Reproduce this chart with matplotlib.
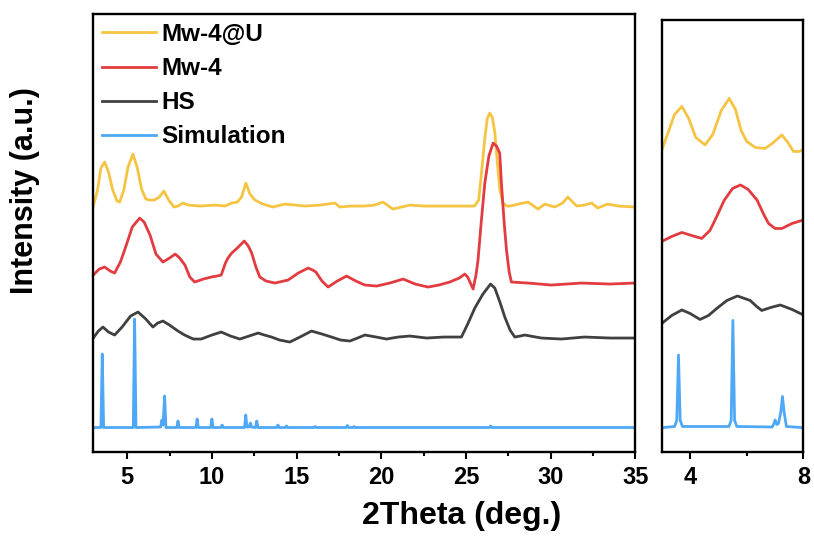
import matplotlib
matplotlib.use("Agg")
import matplotlib.pyplot as plt
from matplotlib.ticker import FixedLocator, NullLocator

plt.rcParams['font.family'] = ['Liberation Sans', 'DejaVu Sans']
plt.rcParams['font.weight'] = 'bold'

# ---------------- data (left panel, 2Theta 3-35) ----------------
labels = ["Mw-4@U", "Mw-4", "HS", "Simulation"]
colors = ["#F6C443", "#E23B40", "#404040", "#4FA8F5"]

mwu_x = [3.0, 3.25, 3.45, 3.67, 3.9, 4.15, 4.4, 4.56, 4.8, 5.05, 5.34, 5.6, 5.85, 6.1,
         6.33, 6.6, 6.9, 7.17, 7.45, 7.76, 8.0, 8.29, 8.6, 9.3, 10.2, 10.77, 11.17,
         11.5, 11.75, 12.01, 12.25, 12.54, 13.0, 13.6, 14.31, 14.9, 15.5, 16.4, 17.26,
         17.55, 18.2, 19.03, 19.6, 20.1, 20.68, 21.7, 22.5, 23.45, 24.5, 25.5, 25.75,
         25.95, 26.1, 26.25, 26.4, 26.55, 26.7, 26.85, 27.0, 27.19, 27.4, 27.6, 28.1,
         28.66, 29.25, 29.65, 30.24, 30.7, 31.01, 31.3, 31.54, 32.0, 32.42, 32.77, 33.36,
         34.0, 34.96]
mwu_y = [246, 262, 284, 290, 280, 262, 251, 250, 262, 285, 298, 284, 263, 253,
         252, 252, 255, 261, 252, 245, 246, 249, 247, 246, 247, 246, 249,
         250, 255, 269, 258, 252, 248, 245, 248, 247, 246, 247, 249,
         245, 246, 246, 247, 250, 243, 247, 246, 246, 246, 246, 252,
         285, 312, 333, 339, 335, 320, 290, 262, 249, 246, 246, 248,
         250, 243, 248, 245, 249, 255, 250, 246, 247, 249, 244, 248,
         246, 245]

mw_x = [3.0, 3.35, 3.67, 4.0, 4.26, 4.6, 4.95, 5.3, 5.74, 6.0, 6.35, 6.7, 7.11, 7.5,
        7.84, 8.1, 8.41, 8.7, 8.98, 9.5, 9.96, 10.3, 10.55, 10.8, 10.95, 11.17, 11.5,
        11.91, 12.15, 12.35, 12.6, 12.83, 13.2, 13.72, 14.5, 15.1, 15.68, 15.95, 16.14,
        16.5, 16.86, 17.4, 17.95, 18.5, 19.03, 19.72, 20.5, 21.29, 22.0, 22.76, 23.4,
        24.04, 24.6, 24.93, 25.1, 25.42, 25.6, 25.71, 25.9, 26.11, 26.35, 26.6, 26.8,
        26.99, 27.09, 27.25, 27.39, 27.55, 27.68, 28.66, 30.04, 31.81, 33.5, 34.96]
mw_y = [177, 183, 185, 181, 179, 190, 207, 225, 234, 230, 217, 198, 190, 194,
        198, 194, 187, 175, 170, 173, 175, 176, 177, 189, 194, 199, 204,
        211, 206, 199, 185, 175, 171, 169, 172, 179, 184, 182, 180,
        171, 165, 171, 176, 171, 167, 166, 169, 173, 168, 165, 167,
        170, 174, 178, 175, 163, 178, 192, 230, 269, 296, 309, 306,
        299, 269, 230, 202, 180, 170, 169, 167, 169, 168, 169]

hs_x = [3.0, 3.3, 3.57, 3.9, 4.26, 4.7, 5.2, 5.64, 6.1, 6.52, 6.8, 7.11, 7.5, 8.0,
        8.39, 8.9, 9.37, 10.0, 10.55, 11.1, 11.65, 12.2, 12.73, 13.1, 13.52, 14.0,
        14.6, 15.2, 15.88, 16.5, 17.06, 17.6, 18.14, 18.6, 19.03, 19.7, 20.31, 21.0,
        21.68, 22.67, 23.7, 24.73, 25.1, 25.52, 26.0, 26.45, 26.7, 27.0, 27.29, 27.6,
        27.88, 28.2, 28.47, 29.45, 30.63, 32.0, 33.5, 34.96]
hs_y = [114, 121, 125, 120, 117, 125, 136, 140, 133, 125, 129, 131, 127, 121,
        117, 113, 113, 117, 120, 116, 113, 116, 119, 117, 115, 112,
        110, 115, 121, 118, 115, 112, 111, 114, 117, 115, 113, 115,
        116, 114, 115, 115, 128, 144, 158, 168, 164, 150, 135, 122,
        115, 116, 117, 114, 113, 115, 114, 114]

sim_x = [3.0, 3.45, 3.53, 3.61, 5.36, 5.44, 5.52, 6.97, 7.05, 7.12, 7.21, 7.29,
         7.93, 8.0, 8.07, 9.06, 9.13, 9.2, 9.93, 10.0, 10.07, 10.53, 10.6, 10.67,
         11.93, 12.0, 12.07, 12.2, 12.27, 12.34, 12.58, 12.65, 12.72, 13.83, 13.9, 13.97,
         14.33, 14.4, 14.47, 16.03, 16.1, 16.17, 17.93, 18.0, 18.07, 18.33, 18.4, 18.47,
         26.38, 26.45, 26.52, 35.0]
sim_y = [24.5, 24.5, 98, 24.5, 24.5, 133, 24.5, 25, 32, 27, 56, 24.5,
         24.5, 31, 24.5, 24.5, 33, 24.5, 24.5, 33, 24.5, 24.5, 27, 24.5,
         24.5, 37, 25, 25, 29, 25, 24.5, 31, 24.5, 24.5, 27, 24.5,
         24.5, 26, 24.5, 24.5, 25.5, 24.5, 24.5, 26.5, 24.5, 24.5, 25.5, 24.5,
         24.5, 26, 24.5, 24.5]

# ---------------- data (right panel, 2Theta 3-8) ----------------
r_mwu_x = [3.0, 3.2, 3.45, 3.71, 3.95, 4.2, 4.53, 4.8, 5.1, 5.38, 5.6, 5.8, 6.0, 6.3,
           6.65, 6.9, 7.24, 7.45, 7.65, 7.85, 8.0]
r_mwu_y = [302.5, 318, 338, 346, 334, 315, 307.5, 318, 342, 354, 343, 322, 311, 305,
           304, 309, 317.5, 310, 301, 301, 303]

r_mw_x = [3.0, 3.35, 3.71, 4.05, 4.41, 4.7, 4.94, 5.2, 5.5, 5.78, 6.05, 6.36, 6.6,
          6.77, 7.0, 7.24, 7.6, 8.0]
r_mw_y = [211, 216, 220, 217, 214, 222, 236, 252, 264, 267.5, 263, 252.5, 238,
          229, 224, 224, 229, 232.5]

r_hs_x = [3.0, 3.35, 3.71, 4.0, 4.35, 4.65, 4.94, 5.3, 5.67, 6.12, 6.35, 6.53, 6.85,
          7.18, 7.6, 8.0]
r_hs_y = [129, 137, 142.5, 139, 133, 137, 144, 152, 156.5, 152, 146, 142, 145,
          147.5, 143, 137.5]

r_sim_x = [3.0, 3.45, 3.53, 3.59, 3.65, 3.73, 5.37, 5.45, 5.51, 5.57, 5.65,
           6.9, 6.96, 7.0, 7.06, 7.12, 7.2, 7.26, 7.32, 7.4, 8.0]
r_sim_y = [24.8, 26, 32, 97.5, 32, 26, 26, 32, 132, 32, 26,
           25.5, 29, 32.5, 28, 29, 40, 56, 40, 26, 24.8]

# ---------------- figure ----------------
fig = plt.figure(figsize=(8.14, 5.36), dpi=100)
axL = fig.add_axes([0.1146, 0.1567, 0.666, 0.817])
axR = fig.add_axes([0.813, 0.1558, 0.174, 0.807])

lw = 2.0
series_left = [(mwu_x, mwu_y), (mw_x, mw_y), (hs_x, hs_y), (sim_x, sim_y)]
series_right = [(r_mwu_x, r_mwu_y), (r_mw_x, r_mw_y), (r_hs_x, r_hs_y), (r_sim_x, r_sim_y)]

for (x, y), c, lab in zip(series_left, colors, labels):
    axL.plot(x, y, color=c, lw=lw, label=lab, solid_joinstyle='round')
for (x, y), c in zip(series_right, colors):
    axR.plot(x, y, color=c, lw=lw, solid_joinstyle='round')

axL.set_xlim(3, 35)
axL.set_ylim(0, 438)
axR.set_xlim(3, 8)
axR.set_ylim(0, 432.5)

axL.xaxis.set_major_locator(FixedLocator([5, 10, 15, 20, 25, 30, 35]))
axL.xaxis.set_minor_locator(FixedLocator([7.5, 12.5, 17.5, 22.5, 27.5, 32.5]))
axR.xaxis.set_major_locator(FixedLocator([4, 8]))
axR.xaxis.set_minor_locator(FixedLocator([6]))

for ax in (axL, axR):
    ax.yaxis.set_major_locator(NullLocator())
    ax.yaxis.set_minor_locator(NullLocator())
    for s in ax.spines.values():
        s.set_linewidth(1.7)
    ax.tick_params(axis='x', which='major', direction='out', length=5, width=1.5,
                   labelsize=17, pad=5)
    ax.tick_params(axis='x', which='minor', direction='out', length=3, width=1.5)
    for t in ax.get_xticklabels():
        t.set_fontweight('bold')

axL.set_xlabel("2Theta (deg.)", fontsize=23, fontweight='bold')
axL.xaxis.set_label_coords(0.68, -0.112)
axL.set_ylabel("Intensity (a.u.)", fontsize=22, fontweight='bold')
axL.yaxis.set_label_coords(-0.098, 0.598)

leg = axL.legend(loc='upper left', bbox_to_anchor=(0.0, 1.0), frameon=False,
                 fontsize=17.5, handlelength=2.2, handletextpad=0.25,
                 labelspacing=0.46, borderpad=0.2, borderaxespad=0.16)
for t in leg.get_texts():
    t.set_fontweight('bold')
for h in leg.get_lines():
    h.set_linewidth(2.0)

fig.savefig("out.png", dpi=100)
